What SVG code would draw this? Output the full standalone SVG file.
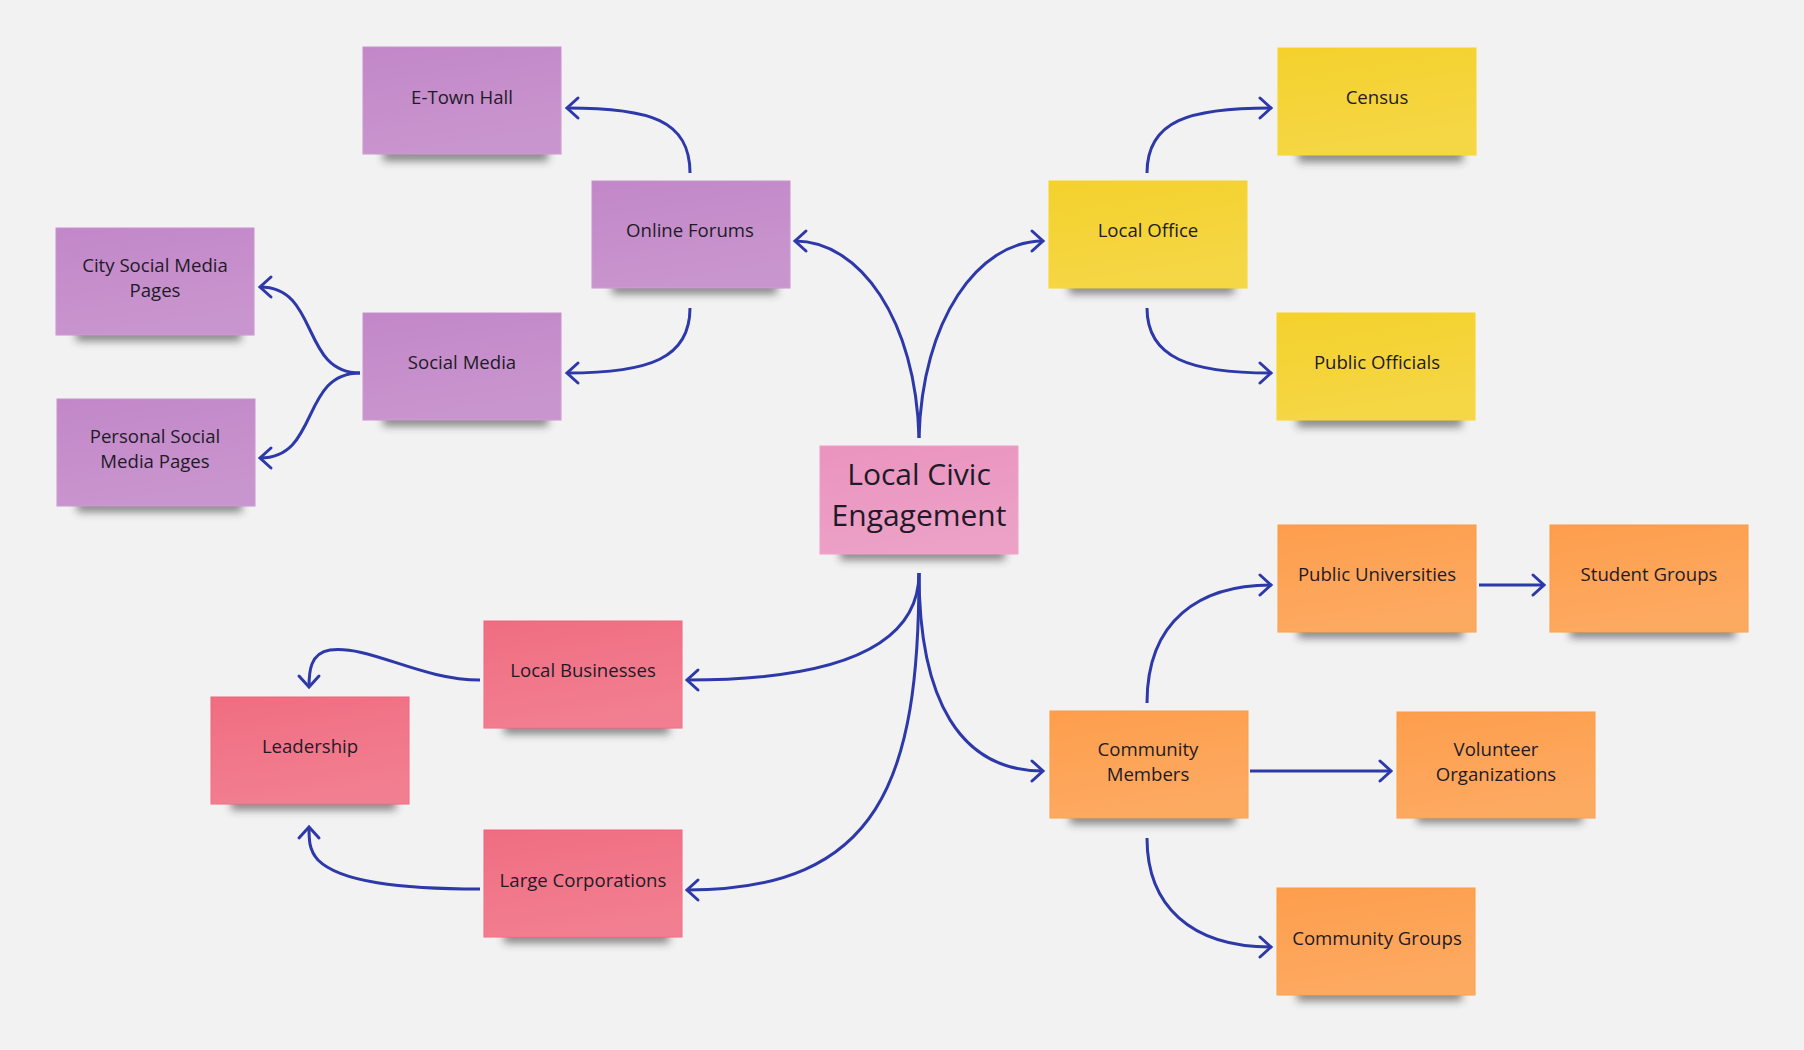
<svg xmlns="http://www.w3.org/2000/svg" width="1804" height="1050" viewBox="0 0 1804 1050">
  <style>
    .lbl { font-family: "Open Sans", "Noto Sans", "DejaVu Sans", sans-serif; font-size: 18.6px; fill: #1e1b28; text-anchor: middle; }
    .big { font-size: 30px; }
    .note { stroke-width: 1; }
    .purple { fill: #c287c8; stroke: #c98fd0; }
    .yellow { fill: #f4d12c; stroke: #f8d41e; }
    .orange { fill: #fd9e4c; stroke: #fb9a3a; }
    .red { fill: #f06d81; stroke: #f0627a; }
    .pink { fill: #ea94bf; stroke: #ee9cc4; }
    .gloss { fill: url(#gloss); stroke: none; }
    .shadow { fill: #2a2a2a; opacity: 0.55; filter: url(#blur); }
    .conn { fill: none; stroke: #2d38a9; stroke-width: 3; marker-end: url(#arrow); }
  </style>
  <defs>
    <linearGradient id="gloss" x1="0" y1="0" x2="0.3" y2="1">
      <stop offset="0" stop-color="#ffffff" stop-opacity="0"/>
      <stop offset="1" stop-color="#ffffff" stop-opacity="0.12"/>
    </linearGradient>
    <filter id="blur" x="-20%" y="-100%" width="140%" height="300%">
      <feGaussianBlur stdDeviation="4"/>
    </filter>
    <marker id="arrow" markerUnits="userSpaceOnUse" markerWidth="30" markerHeight="30" viewBox="-15 -15 30 30" refX="0" refY="0" orient="auto">
      <path d="M-11,-10 L0,0 L-11,10" fill="none" stroke="#2d38a9" stroke-width="3" stroke-linecap="round" stroke-linejoin="miter"/>
    </marker>
  </defs>

  <rect x="0" y="0" width="1804" height="1050" fill="#f2f2f2"/>

  <g id="connectors">
    <path class="conn" d="M919,438 C 916,320 860,241 795,241"/>
    <path class="conn" d="M919,438 C 922,320 978,241 1043,241"/>
    <path class="conn" d="M690,173 C 690,120 650,108 567,108"/>
    <path class="conn" d="M690,308 C 690,358 650,373 567,373"/>
    <path class="conn" d="M360,373 C 300,373 320,287 260,287"/>
    <path class="conn" d="M360,373 C 300,373 320,458 260,458"/>
    <path class="conn" d="M1147,173 C 1147,120 1190,108 1271,108"/>
    <path class="conn" d="M1147,308 C 1147,358 1190,373 1271,373"/>
    <path class="conn" d="M919,573 C 919,650 830,680 687,680"/>
    <path class="conn" d="M919,573 C 919,780 880,890 687,890"/>
    <path class="conn" d="M919,573 C 919,700 960,771 1043,771"/>
    <path class="conn" d="M480,680 C 420,680 370,645 330,650 C 310,653 309,672 309,687"/>
    <path class="conn" d="M480,889 C 400,889 340,882 318,860 C 309,850 309,840 309,827"/>
    <path class="conn" d="M1147,703 C 1147,620 1200,585 1271,585"/>
    <path class="conn" d="M1147,838 C 1147,905 1190,947 1271,947"/>
    <path class="conn" d="M1479,585 L1544,585"/>
    <path class="conn" d="M1250,771 L1391,771"/>
  </g>

  <g id="node-center">
    <rect class="shadow" x="840" y="548" width="165" height="12"/>
    <rect class="note pink" x="820" y="446" width="198" height="108"/>
    <rect class="gloss" x="820" y="446" width="198" height="108"/>
    <text class="lbl big" x="919" y="485">Local Civic</text>
    <text class="lbl big" x="919" y="526">Engagement</text>
  </g>

  <g id="node-etown">
    <rect class="shadow" x="383" y="149" width="165" height="12"/>
    <rect class="note purple" x="363" y="47" width="198" height="107"/>
    <rect class="gloss" x="363" y="47" width="198" height="107"/>
    <text class="lbl" x="462" y="104">E-Town Hall</text>
  </g>

  <g id="node-online">
    <rect class="shadow" x="612" y="282" width="165" height="12"/>
    <rect class="note purple" x="592" y="181" width="198" height="107"/>
    <rect class="gloss" x="592" y="181" width="198" height="107"/>
    <text class="lbl" x="690" y="237">Online Forums</text>
  </g>

  <g id="node-city">
    <rect class="shadow" x="76" y="329" width="165" height="12"/>
    <rect class="note purple" x="56" y="228" width="198" height="107"/>
    <rect class="gloss" x="56" y="228" width="198" height="107"/>
    <text class="lbl" x="155" y="272">City Social Media</text>
    <text class="lbl" x="155" y="297">Pages</text>
  </g>

  <g id="node-social">
    <rect class="shadow" x="383" y="414" width="165" height="12"/>
    <rect class="note purple" x="363" y="313" width="198" height="107"/>
    <rect class="gloss" x="363" y="313" width="198" height="107"/>
    <text class="lbl" x="462" y="369">Social Media</text>
  </g>

  <g id="node-personal">
    <rect class="shadow" x="77" y="500" width="165" height="12"/>
    <rect class="note purple" x="57" y="399" width="198" height="107"/>
    <rect class="gloss" x="57" y="399" width="198" height="107"/>
    <text class="lbl" x="155" y="443">Personal Social</text>
    <text class="lbl" x="155" y="468">Media Pages</text>
  </g>

  <g id="node-localoffice">
    <rect class="shadow" x="1069" y="282" width="165" height="12"/>
    <rect class="note yellow" x="1049" y="181" width="198" height="107"/>
    <rect class="gloss" x="1049" y="181" width="198" height="107"/>
    <text class="lbl" x="1148" y="237">Local Office</text>
  </g>

  <g id="node-census">
    <rect class="shadow" x="1298" y="150" width="165" height="12"/>
    <rect class="note yellow" x="1278" y="48" width="198" height="107"/>
    <rect class="gloss" x="1278" y="48" width="198" height="107"/>
    <text class="lbl" x="1377" y="104">Census</text>
  </g>

  <g id="node-officials">
    <rect class="shadow" x="1297" y="415" width="165" height="12"/>
    <rect class="note yellow" x="1277" y="313" width="198" height="107"/>
    <rect class="gloss" x="1277" y="313" width="198" height="107"/>
    <text class="lbl" x="1377" y="369">Public Officials</text>
  </g>

  <g id="node-universities">
    <rect class="shadow" x="1298" y="626" width="165" height="12"/>
    <rect class="note orange" x="1278" y="525" width="198" height="107"/>
    <rect class="gloss" x="1278" y="525" width="198" height="107"/>
    <text class="lbl" x="1377" y="581">Public Universities</text>
  </g>

  <g id="node-student">
    <rect class="shadow" x="1570" y="626" width="165" height="12"/>
    <rect class="note orange" x="1550" y="525" width="198" height="107"/>
    <rect class="gloss" x="1550" y="525" width="198" height="107"/>
    <text class="lbl" x="1649" y="581">Student Groups</text>
  </g>

  <g id="node-community-members">
    <rect class="shadow" x="1070" y="812" width="165" height="12"/>
    <rect class="note orange" x="1050" y="711" width="198" height="107"/>
    <rect class="gloss" x="1050" y="711" width="198" height="107"/>
    <text class="lbl" x="1148" y="756">Community</text>
    <text class="lbl" x="1148" y="781">Members</text>
  </g>

  <g id="node-volunteer">
    <rect class="shadow" x="1417" y="811" width="165" height="12"/>
    <rect class="note orange" x="1397" y="712" width="198" height="106"/>
    <rect class="gloss" x="1397" y="712" width="198" height="106"/>
    <text class="lbl" x="1496" y="756">Volunteer</text>
    <text class="lbl" x="1496" y="781">Organizations</text>
  </g>

  <g id="node-community-groups">
    <rect class="shadow" x="1297" y="989" width="165" height="12"/>
    <rect class="note orange" x="1277" y="888" width="198" height="107"/>
    <rect class="gloss" x="1277" y="888" width="198" height="107"/>
    <text class="lbl" x="1377" y="945">Community Groups</text>
  </g>

  <g id="node-localbiz">
    <rect class="shadow" x="504" y="722" width="165" height="12"/>
    <rect class="note red" x="484" y="621" width="198" height="107"/>
    <rect class="gloss" x="484" y="621" width="198" height="107"/>
    <text class="lbl" x="583" y="677">Local Businesses</text>
  </g>

  <g id="node-leadership">
    <rect class="shadow" x="231" y="798" width="165" height="12"/>
    <rect class="note red" x="211" y="697" width="198" height="107"/>
    <rect class="gloss" x="211" y="697" width="198" height="107"/>
    <text class="lbl" x="310" y="753">Leadership</text>
  </g>

  <g id="node-largecorp">
    <rect class="shadow" x="504" y="931" width="165" height="12"/>
    <rect class="note red" x="484" y="830" width="198" height="107"/>
    <rect class="gloss" x="484" y="830" width="198" height="107"/>
    <text class="lbl" x="583" y="887">Large Corporations</text>
  </g>
</svg>
